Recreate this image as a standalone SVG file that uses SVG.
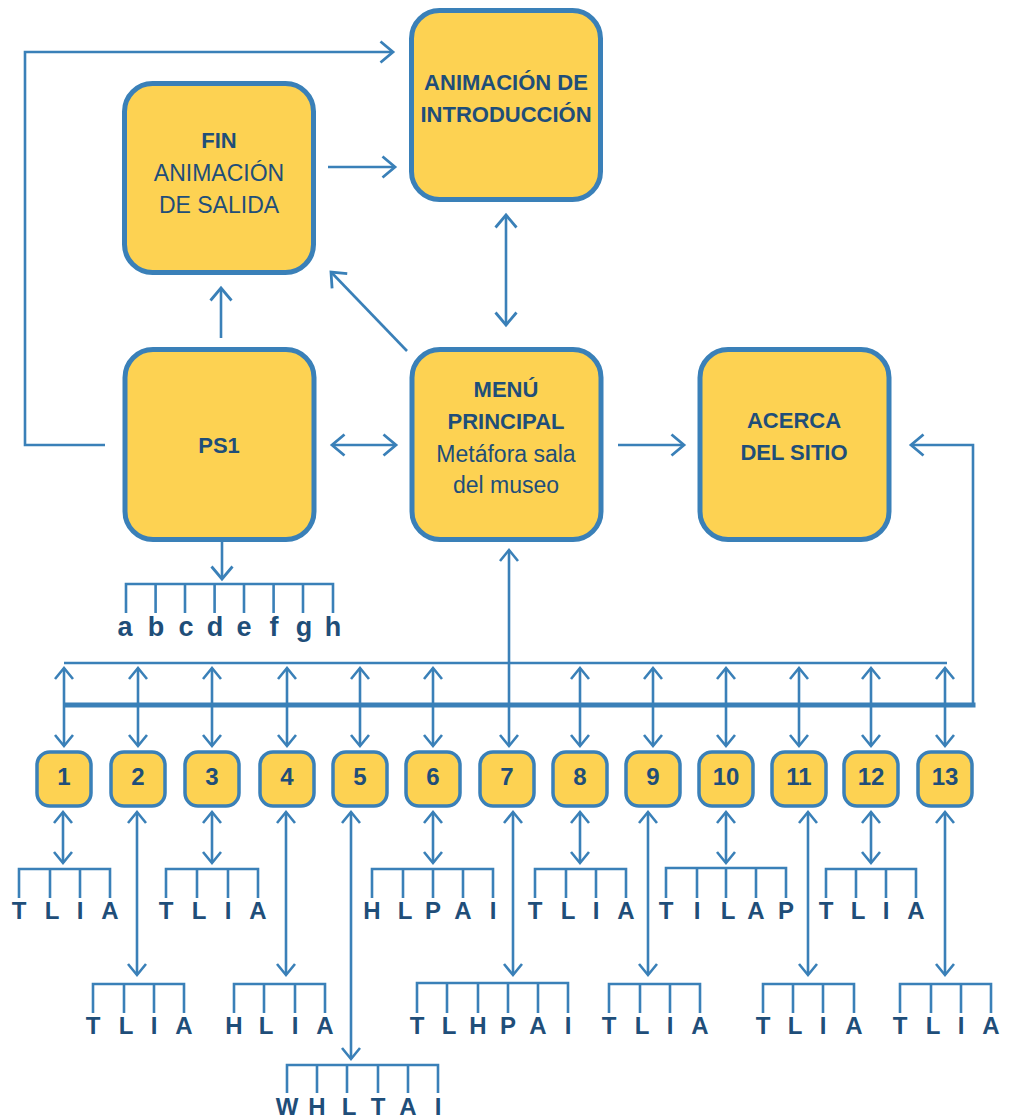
<svg xmlns="http://www.w3.org/2000/svg" width="1015" height="1120" viewBox="0 0 1015 1120">
<defs>
<style>
.box{fill:#fdd252;stroke:#3a80b8;stroke-width:5}
.sn{fill:#fdd252;stroke:#3a80b8;stroke-width:3.5}
.ln{fill:none;stroke:#3a80b8;stroke-width:2.6}
.bus{fill:none;stroke:#3a80b8;stroke-width:5}
.b{font-family:"Liberation Sans",Arial,sans-serif;font-weight:bold;fill:#1f4e79;text-anchor:middle}
.r{font-family:"Liberation Sans",Arial,sans-serif;fill:#1f4e79;text-anchor:middle}
.ar{marker-end:url(#ah)}
.dr{marker-start:url(#ah);marker-end:url(#ah)}
.sa{marker-end:url(#sh)}
.sd{marker-start:url(#sh);marker-end:url(#sh)}
.lt{font-family:"Liberation Sans",Arial,sans-serif;font-weight:bold;fill:#1f4e79;text-anchor:middle;font-size:24px}
</style>
<marker id="ah" viewBox="-16 -16 32 32" markerWidth="32" markerHeight="32" refX="0" refY="0" orient="auto-start-reverse" markerUnits="userSpaceOnUse">
<path d="M-12.5,-10.5 L0,0 L-12.5,10.5" fill="none" stroke="#3a80b8" stroke-width="2.8"/>
</marker>
<marker id="sh" viewBox="-16 -16 32 32" markerWidth="32" markerHeight="32" refX="0" refY="0" orient="auto-start-reverse" markerUnits="userSpaceOnUse">
<path d="M-11,-9 L0,0 L-11,9" fill="none" stroke="#3a80b8" stroke-width="2.6"/>
</marker>
</defs>
<rect width="1015" height="1120" fill="#ffffff"/>

<g id="connectors">
<polyline class="ln ar" points="105,445 25,445 25,52 393,52"/>
<line class="ln ar" x1="328" y1="167" x2="395" y2="167"/>
<line class="ln dr" x1="506" y1="215" x2="506" y2="325"/>
<line class="ln ar" x1="221" y1="338" x2="221" y2="288"/>
<line class="ln ar" x1="407" y1="351" x2="331" y2="272"/>
<line class="ln dr" x1="332" y1="445" x2="396" y2="445"/>
<line class="ln ar" x1="618" y1="445" x2="684" y2="445"/>
<polyline class="ln ar" points="973,705 973,445 911,445"/>
<line class="ln ar" x1="222" y1="542" x2="222" y2="579"/>
<line class="bus" x1="64" y1="705" x2="975.5" y2="705"/>
<line class="ln" x1="64" y1="663" x2="947" y2="663"/>
<line class="ln sd" x1="64" y1="668" x2="64" y2="746"/>
<line class="ln sd" x1="138" y1="668" x2="138" y2="746"/>
<line class="ln sd" x1="212" y1="668" x2="212" y2="746"/>
<line class="ln sd" x1="287" y1="668" x2="287" y2="746"/>
<line class="ln sd" x1="360" y1="668" x2="360" y2="746"/>
<line class="ln sd" x1="433" y1="668" x2="433" y2="746"/>
<line class="ln sd" x1="509" y1="550" x2="509" y2="746"/>
<line class="ln sd" x1="580" y1="668" x2="580" y2="746"/>
<line class="ln sd" x1="653" y1="668" x2="653" y2="746"/>
<line class="ln sd" x1="726" y1="668" x2="726" y2="746"/>
<line class="ln sd" x1="799" y1="668" x2="799" y2="746"/>
<line class="ln sd" x1="871" y1="668" x2="871" y2="746"/>
<line class="ln sd" x1="945" y1="668" x2="945" y2="746"/>
<!-- lower arrows -->
<line class="ln sd" x1="63" y1="812" x2="63" y2="863"/>
<line class="ln sd" x1="212" y1="812" x2="212" y2="863"/>
<line class="ln sd" x1="433" y1="812" x2="433" y2="863"/>
<line class="ln sd" x1="580" y1="812" x2="580" y2="863"/>
<line class="ln sd" x1="726" y1="812" x2="726" y2="863"/>
<line class="ln sd" x1="871" y1="812" x2="871" y2="863"/>
<line class="ln sd" x1="137" y1="812" x2="137" y2="975"/>
<line class="ln sd" x1="286" y1="812" x2="286" y2="975"/>
<line class="ln sd" x1="513" y1="812" x2="513" y2="975"/>
<line class="ln sd" x1="648" y1="812" x2="648" y2="975"/>
<line class="ln sd" x1="808" y1="812" x2="808" y2="975"/>
<line class="ln sd" x1="945" y1="812" x2="945" y2="975"/>
<line class="ln sd" x1="351" y1="812" x2="351" y2="1059"/>
<!-- combs -->
<path class="ln" d="M126,613 V584 H333 V613 M155.6,584 V613 M185,584 V613 M214.6,584 V613 M244,584 V613 M273.6,584 V613 M303,584 V613"/>
<path class="ln" d="M19,898 V869 H110 V898 M50,869 V898 M80,869 V898"/>
<path class="ln" d="M166,898 V869 H258 V898 M197,869 V898 M228,869 V898"/>
<path class="ln" d="M372,898 V869 H493 V898 M403,869 V898 M433,869 V898 M463,869 V898"/>
<path class="ln" d="M535,898 V869 H626 V898 M566,869 V898 M596,869 V898"/>
<path class="ln" d="M666,898 V868 H786 V898 M697,868 V898 M726,868 V898 M756,868 V898"/>
<path class="ln" d="M826,898 V869 H916 V898 M856,869 V898 M886,869 V898"/>
<path class="ln" d="M93,1013 V984 H184 V1013 M124,984 V1013 M154,984 V1013"/>
<path class="ln" d="M234,1013 V984 H325 V1013 M264,984 V1013 M295,984 V1013"/>
<path class="ln" d="M417,1013 V983 H568 V1013 M447,983 V1013 M478,983 V1013 M508,983 V1013 M538,983 V1013"/>
<path class="ln" d="M609,1013 V984 H700 V1013 M640,984 V1013 M670,984 V1013"/>
<path class="ln" d="M763,1013 V984 H854 V1013 M793,984 V1013 M823,984 V1013"/>
<path class="ln" d="M900,1013 V984 H991 V1013 M931,984 V1013 M961,984 V1013"/>
<path class="ln" d="M287,1093 V1065 H438 V1093 M317,1065 V1093 M347,1065 V1093 M378,1065 V1093 M408,1065 V1093"/>
</g>

<g id="node-anim">
<rect class="box" x="411.5" y="10.5" width="189" height="189" rx="28"/>
<text class="b" x="506" y="90" font-size="22">ANIMACIÓN DE</text>
<text class="b" x="506" y="122" font-size="22">INTRODUCCIÓN</text>
</g>
<g id="node-fin">
<rect class="box" x="124.5" y="83.5" width="189" height="189" rx="28"/>
<text class="b" x="219" y="148" font-size="22">FIN</text>
<text class="r" x="219" y="181" font-size="23">ANIMACIÓN</text>
<text class="r" x="219" y="213" font-size="23">DE SALIDA</text>
</g>
<g id="node-ps1">
<rect class="box" x="125" y="349.5" width="189" height="190" rx="28"/>
<text class="b" x="219" y="453" font-size="22">PS1</text>
</g>
<g id="node-menu">
<rect class="box" x="412" y="349.5" width="189" height="190" rx="28"/>
<text class="b" x="506" y="397" font-size="22">MENÚ</text>
<text class="b" x="506" y="429" font-size="22">PRINCIPAL</text>
<text class="r" x="506" y="462" font-size="23">Metáfora sala</text>
<text class="r" x="506" y="493" font-size="23">del museo</text>
</g>
<g id="node-acerca">
<rect class="box" x="700" y="349.5" width="189" height="190" rx="28"/>
<text class="b" x="794" y="428" font-size="22">ACERCA</text>
<text class="b" x="794" y="460" font-size="22">DEL SITIO</text>
</g>

<g id="ps1-items">
<text class="lt" font-size="27" x="125" y="636" style="font-size:27px">a</text>
<text class="lt" x="156" y="636" style="font-size:27px">b</text>
<text class="lt" x="186" y="636" style="font-size:27px">c</text>
<text class="lt" x="215" y="636" style="font-size:27px">d</text>
<text class="lt" x="244" y="636" style="font-size:27px">e</text>
<text class="lt" x="274" y="636" style="font-size:27px">f</text>
<text class="lt" x="304" y="636" style="font-size:27px">g</text>
<text class="lt" x="333" y="636" style="font-size:27px">h</text>
</g>

<g id="node-1"><rect class="sn" x="37" y="752" width="54" height="54" rx="13"/><text class="b" x="64" y="785" font-size="24">1</text></g>
<g id="node-2"><rect class="sn" x="111" y="752" width="54" height="54" rx="13"/><text class="b" x="138" y="785" font-size="24">2</text></g>
<g id="node-3"><rect class="sn" x="185" y="752" width="54" height="54" rx="13"/><text class="b" x="212" y="785" font-size="24">3</text></g>
<g id="node-4"><rect class="sn" x="260" y="752" width="54" height="54" rx="13"/><text class="b" x="287" y="785" font-size="24">4</text></g>
<g id="node-5"><rect class="sn" x="333" y="752" width="54" height="54" rx="13"/><text class="b" x="360" y="785" font-size="24">5</text></g>
<g id="node-6"><rect class="sn" x="406" y="752" width="54" height="54" rx="13"/><text class="b" x="433" y="785" font-size="24">6</text></g>
<g id="node-7"><rect class="sn" x="480" y="752" width="54" height="54" rx="13"/><text class="b" x="507" y="785" font-size="24">7</text></g>
<g id="node-8"><rect class="sn" x="553" y="752" width="54" height="54" rx="13"/><text class="b" x="580" y="785" font-size="24">8</text></g>
<g id="node-9"><rect class="sn" x="626" y="752" width="54" height="54" rx="13"/><text class="b" x="653" y="785" font-size="24">9</text></g>
<g id="node-10"><rect class="sn" x="699" y="752" width="54" height="54" rx="13"/><text class="b" x="726" y="785" font-size="24">10</text></g>
<g id="node-11"><rect class="sn" x="772" y="752" width="54" height="54" rx="13"/><text class="b" x="799" y="785" font-size="24">11</text></g>
<g id="node-12"><rect class="sn" x="844" y="752" width="54" height="54" rx="13"/><text class="b" x="871" y="785" font-size="24">12</text></g>
<g id="node-13"><rect class="sn" x="918" y="752" width="54" height="54" rx="13"/><text class="b" x="945" y="785" font-size="24">13</text></g>

<g id="leaves">
<text class="lt" x="19" y="919">T</text><text class="lt" x="52" y="919">L</text><text class="lt" x="80" y="919">I</text><text class="lt" x="110" y="919">A</text>
<text class="lt" x="166" y="919">T</text><text class="lt" x="199" y="919">L</text><text class="lt" x="228" y="919">I</text><text class="lt" x="258" y="919">A</text>
<text class="lt" x="372" y="919">H</text><text class="lt" x="405" y="919">L</text><text class="lt" x="433" y="919">P</text><text class="lt" x="463" y="919">A</text><text class="lt" x="493" y="919">I</text>
<text class="lt" x="535" y="919">T</text><text class="lt" x="568" y="919">L</text><text class="lt" x="596" y="919">I</text><text class="lt" x="626" y="919">A</text>
<text class="lt" x="666" y="919">T</text><text class="lt" x="697" y="919">I</text><text class="lt" x="728" y="919">L</text><text class="lt" x="756" y="919">A</text><text class="lt" x="786" y="919">P</text>
<text class="lt" x="826" y="919">T</text><text class="lt" x="858" y="919">L</text><text class="lt" x="886" y="919">I</text><text class="lt" x="916" y="919">A</text>
<text class="lt" x="93" y="1034">T</text><text class="lt" x="126" y="1034">L</text><text class="lt" x="154" y="1034">I</text><text class="lt" x="184" y="1034">A</text>
<text class="lt" x="234" y="1034">H</text><text class="lt" x="266" y="1034">L</text><text class="lt" x="295" y="1034">I</text><text class="lt" x="325" y="1034">A</text>
<text class="lt" x="417" y="1034">T</text><text class="lt" x="449" y="1034">L</text><text class="lt" x="478" y="1034">H</text><text class="lt" x="508" y="1034">P</text><text class="lt" x="538" y="1034">A</text><text class="lt" x="568" y="1034">I</text>
<text class="lt" x="609" y="1034">T</text><text class="lt" x="642" y="1034">L</text><text class="lt" x="670" y="1034">I</text><text class="lt" x="700" y="1034">A</text>
<text class="lt" x="763" y="1034">T</text><text class="lt" x="795" y="1034">L</text><text class="lt" x="823" y="1034">I</text><text class="lt" x="854" y="1034">A</text>
<text class="lt" x="900" y="1034">T</text><text class="lt" x="933" y="1034">L</text><text class="lt" x="961" y="1034">I</text><text class="lt" x="991" y="1034">A</text>
<text class="lt" x="287" y="1115">W</text><text class="lt" x="317" y="1115">H</text><text class="lt" x="349" y="1115">L</text><text class="lt" x="378" y="1115">T</text><text class="lt" x="408" y="1115">A</text><text class="lt" x="438" y="1115">I</text>
</g>
</svg>
